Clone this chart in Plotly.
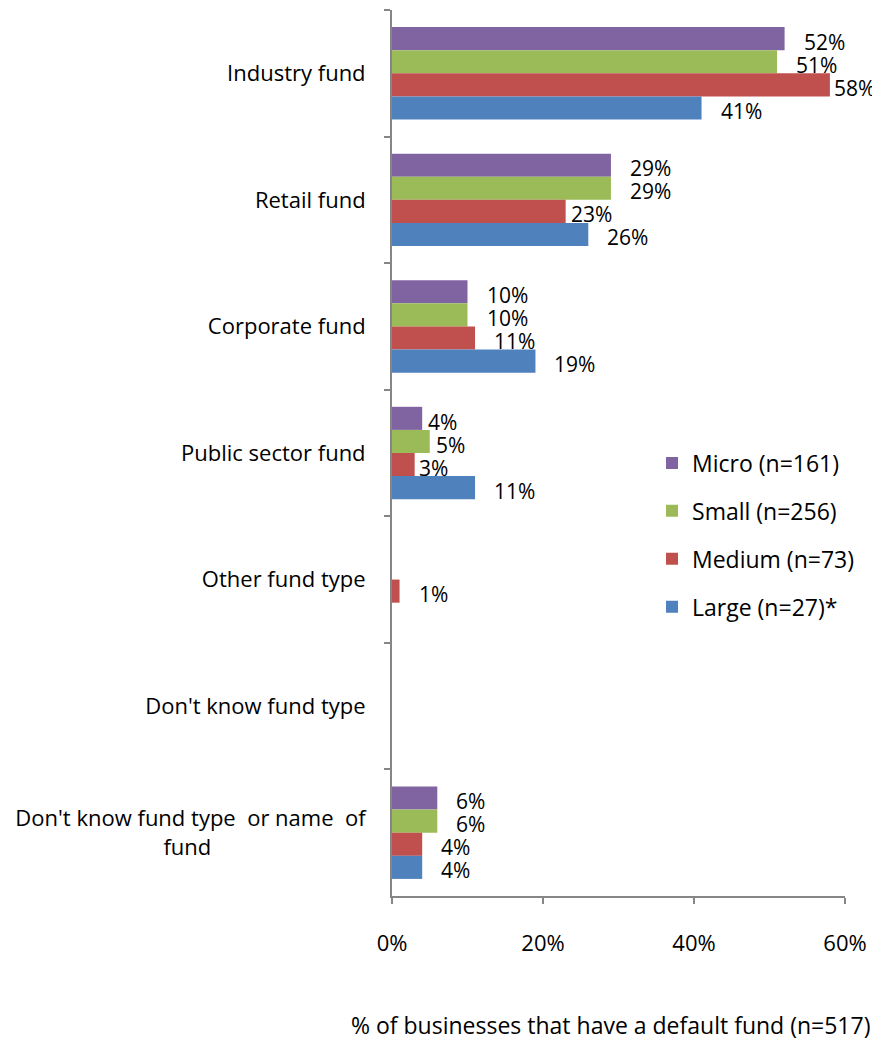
import plotly.graph_objects as go

categories = [
    "Industry fund",
    "Retail fund",
    "Corporate fund",
    "Public sector fund",
    "Other fund type",
    "Don't know fund type",
    "Don't know fund type\u00a0 or name\u00a0 of<br>fund" + "\u00a0" * 27,
]
series_names = ["Micro (n=161)", "Small (n=256)", "Medium (n=73)", "Large (n=27)*"]
micro = [52, 29, 10, 4, None, None, 6]
small = [51, 29, 10, 5, None, None, 6]
medium = [58, 23, 11, 3, 1, None, 4]
large = [41, 26, 19, 11, None, None, 4]
colors = ["#8064A2", "#9BBB59", "#C0504D", "#4F81BD"]
x_ticks = [0, 20, 40, 60]
x_tick_labels = ["0%", "20%", "40%", "60%"]
x_title = "% of businesses that have a default fund (n=517)"

# label gap after bar end (pixels); Excel nudged a few labels closer
label_gap = {
    ("Medium (n=73)", 0): 2, ("Medium (n=73)", 1): 3,
    ("Micro (n=161)", 3): 4, ("Small (n=256)", 3): 4, ("Medium (n=73)", 3): 2,
}

FONT = "'Open Sans', sans-serif"
BAR_PX = 23.0
fig = go.Figure()
for k, (name, vals, col) in enumerate(zip(series_names, [micro, small, medium, large], colors)):
    fig.add_trace(go.Bar(
        y=categories, x=vals, name=name, orientation="h",
        marker=dict(color=col, line=dict(width=0)),
        legendgroup=name, hoverinfo="x+y",
    ))
    for i, v in enumerate(vals):
        if v is None:
            continue
        fig.add_annotation(
            x=v, y=categories[i], xref="x", yref="y",
            text="%d%%" % v, showarrow=False, xanchor="left",
            xshift=label_gap.get((name, i), 17),
            yshift=(1.5 - k) * BAR_PX - 3,
            font=dict(family=FONT, size=21, color="#000000"),
        )

# axis title as a centred annotation below the tick labels
fig.add_annotation(
    x=0.4834, y=-0.1456, xref="paper", yref="paper",
    text=x_title, showarrow=False, xanchor="center", yanchor="middle",
    font=dict(family=FONT, size=23, color="#000000"),
)

fig.update_layout(
    width=872, height=1035,
    paper_bgcolor="white", plot_bgcolor="white",
    barmode="group", bargap=0.27, bargroupgap=0,
    margin=dict(l=384, r=35, t=2, b=147),
    font=dict(family=FONT, size=22, color="#000000"),
    showlegend=True,
    legend=dict(x=0.574, y=0.513, xanchor="left", yanchor="top",
                font=dict(size=23), tracegroupgap=15,
                itemwidth=30, bgcolor="rgba(0,0,0,0)"),
    xaxis=dict(range=[0, 60], tickvals=x_ticks, ticktext=x_tick_labels,
               showgrid=False, zeroline=False, showline=True,
               linecolor="#868686", linewidth=2, ticks="outside",
               ticklen=6, tickcolor="#868686", tickwidth=2,
               tickfont=dict(size=22),
               ticklabelstandoff=21, automargin=False),
    yaxis=dict(autorange="reversed", showgrid=False, showline=True,
               linecolor="#868686", linewidth=2, ticks="outside",
               tickson="boundaries", ticklen=6, tickcolor="#868686", tickwidth=2,
               tickfont=dict(size=22),
               ticklabelstandoff=20, automargin=False),
)

fig.write_html("out.html")
